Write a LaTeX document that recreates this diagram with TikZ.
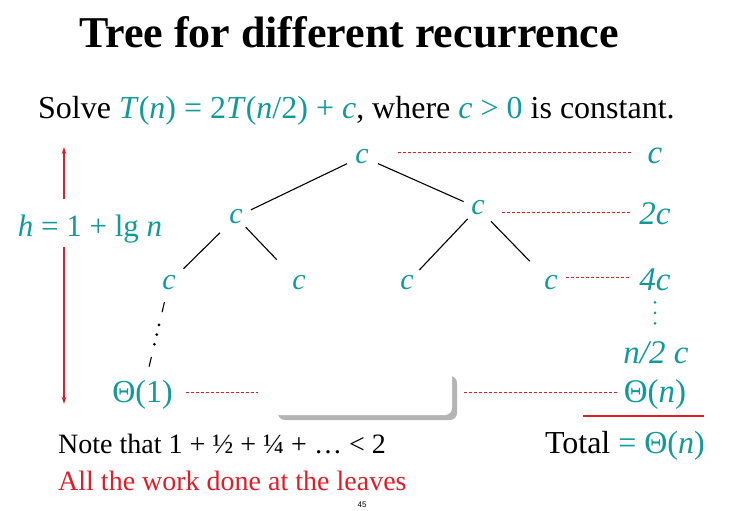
\documentclass[tikz,border=0pt]{standalone}
\usepackage{fontspec}
\setmainfont{Liberation Serif}
\newfontfamily\sansf{Liberation Sans}
\usetikzlibrary{calc,shadows,arrows.meta}
\definecolor{teal1}{RGB}{18,154,154}
\definecolor{red1}{RGB}{222,30,40}
\newcommand{\fs}[1]{\fontsize{#1}{#1}\selectfont}
\begin{document}
\begin{tikzpicture}[x=1pt,y=-1pt,
  tc/.style={text=teal1, inner sep=0pt},
  lbl/.style={inner sep=0pt},
  edge/.style={black, line width=1.1pt},
  reddash/.style={red1, line width=0.9pt, dash pattern=on 3pt off 2pt},
  redarr/.style={red1, line width=1.3pt, -{Stealth[length=7pt,width=4.5pt]}},
  box/.style={fill=white, rounded corners=7pt, minimum width=179pt, minimum height=44pt, inner sep=0pt,
    drop shadow={shadow xshift=5pt, shadow yshift=-5pt, fill=black!45, opacity=0.65}}]
\useasboundingbox[fill=white] (0,0) rectangle (737,511);

% title and problem statement
\node[lbl, anchor=base, font=\fs{44}\bfseries] (title) at (349,48) {Tree for different recurrence};
\node[lbl, anchor=base west, font=\fs{32}] (solve) at (38,118)
  {Solve {\color{teal1}\textit{T}(\textit{n}) = 2\textit{T}(\textit{n}/2) + \textit{c}}, where {\color{teal1}\textit{c} > 0} is constant.};

% tree nodes
\node[tc, font=\fs{30}\itshape] (R)   at (362,156.5) {c};
\node[tc, font=\fs{30}\itshape] (L1)  at (236,217) {c};
\node[tc, font=\fs{30}\itshape] (R1)  at (478,208) {c};
\node[tc, font=\fs{30}\itshape] (L2a) at (169,283) {c};
\node[tc, font=\fs{30}\itshape] (L2b) at (299,283) {c};
\node[tc, font=\fs{30}\itshape] (L2c) at (407,283) {c};
\node[tc, font=\fs{30}\itshape] (L2d) at (551,283) {c};
\node[tc, anchor=base, font=\fs{32}] (T1) at (142.5,402) {Θ(1)};

% tree edges
\draw[edge, shorten <=16.6pt, shorten >=16.6pt] (R.center) -- (L1.center);
\draw[edge, shorten <=17.5pt, shorten >=15.7pt] (R.center) -- (R1.center);
\draw[edge, shorten <=22.6pt, shorten >=20.5pt] (L1.center) -- (L2a.center);
\draw[edge, shorten <=14.1pt, shorten >=32.3pt] (L1.center) -- (L2b.center);
\draw[edge, shorten <=15pt, shorten >=17.9pt] (R1.center) -- (L2c.center);
\draw[edge, shorten <=18.6pt, shorten >=30.4pt] (R1.center) -- (L2d.center);
% dashed/dotted path to the leaf
\draw[edge, shorten <=19.5pt, shorten >=28pt, dash pattern=on 10.5pt off 46pt on 10pt off 100pt] (L2a.center) -- (T1.center);
\foreach \d in {43,53,63}
  \fill ($(L2a.center)!\d pt!(T1.center)$) circle (1.5pt);

% right column
\node[tc, font=\fs{33}\itshape] (C1) at (655,155.5) {c};
\node[tc, anchor=base, font=\fs{33}\itshape] (C2) at (655,224) {2c};
\node[tc, anchor=base, font=\fs{33}\itshape] (C4) at (655,290) {4c};
\node[tc, anchor=base, font=\fs{33}\itshape] (NC) at (656,363) {n/2 c};
\node[tc, anchor=base, font=\fs{33}] (TN) at (655,402) {Θ(\textit{n})};
\path (C4.center |- NC.center) coordinate (nc4);
\foreach \d in {23,33.5,44}
  \fill[teal1] ($(C4.center)!\d pt!(nc4)$) circle (1.5pt);

% white box
\node[box] (Box) at (362.5,393) {};

% red dashed level lines
\path ($(R.center)+(36,-4.5)$) coordinate (d1a) ($(C1.center)+(-23,0)$) coordinate (d1b);
\draw[reddash] (d1a) -- (d1a -| d1b);
\path ($(R1.center)+(24,4)$) coordinate (d2a) ($(C2.center)+(-25,0)$) coordinate (d2b);
\draw[reddash] (d2a) -- (d2a -| d2b);
\path ($(L2d.center)+(15,-6)$) coordinate (d3a) ($(C4.center)+(-25,0)$) coordinate (d3b);
\draw[reddash] (d3a) -- (d3a -| d3b);
\path ($(T1.center)+(43,-2)$) coordinate (d4a) ($(Box.west)+(-15,0)$) coordinate (d4b)
      ($(Box.east)+(12,0)$) coordinate (d5a) ($(TN.center)+(-37,0)$) coordinate (d5b);
\draw[reddash] (d4a) -- (d4a -| d4b);
\draw[reddash] (d4a -| d5a) -- (d4a -| d5b);

% underline
\path ($(TN.center)+(-72,22)$) coordinate (u1) ($(TN.center)+(49,22)$) coordinate (u2);
\draw[red1, line width=2.8pt] (u1) -- (u2);

% height arrow
\node[tc, anchor=base, font=\fs{31}] (H) at (90,236) {\textit{h} = 1 + lg \textit{n}};
\coordinate (htop) at (64,147);
\coordinate (hbot) at (64,404);
\path (H.north -| htop) coordinate (hn) (H.south -| hbot) coordinate (hs);
\draw[redarr] ($(hn)+(0,-15)$) -- (htop);
\draw[redarr] ($(hs)+(0,4)$) -- (hbot);

% bottom texts
\node[lbl, anchor=base west, font=\fs{28}] (note) at (58,453) {Note that 1 + ½ + ¼ + … < 2};
\node[lbl, anchor=base west, font=\fs{28}, text=red1] (work) at (58,490) {All the work done at the leaves};
\node[lbl, anchor=base east, font=\fs{32}] (total) at (705,453) {Total {\color{teal1}= Θ(\textit{n})}};
\node[lbl, anchor=base, font=\sansf\fs{8}] (pg) at (362,507) {45};
\end{tikzpicture}
\end{document}
